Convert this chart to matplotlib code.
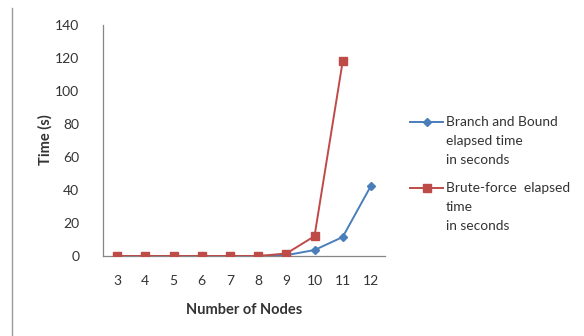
import matplotlib
matplotlib.use('Agg')
import matplotlib.pyplot as plt
from matplotlib.lines import Line2D

# ── DATA ─────────────────────────────────────────────────────────
nodes = [3, 4, 5, 6, 7, 8, 9, 10, 11, 12]
bnb_time = [0, 0, 0, 0, 0, 0, 0.5, 3.6, 11.5, 42.5]
brute_nodes = [3, 4, 5, 6, 7, 8, 9, 10, 11]
brute_time = [0, 0, 0, 0, 0, 0, 1.5, 12, 118]

series_labels = ['Branch and Bound\nelapsed time\nin seconds',
                 'Brute-force  elapsed\ntime\nin seconds']

BLUE = '#4a7ebb'
RED = '#be4b48'
TXT = '#333333'
FONT = 'Lato'

W, H = 584, 336
fig = plt.figure(figsize=(W / 100, H / 100), dpi=100)
fig.patch.set_facecolor('white')
ax = fig.add_axes([103 / W, 1 - 256 / H, 282 / W, 231 / H])

ax.plot(nodes, bnb_time, color=BLUE, lw=1.4, marker='D', ms=3.8,
        mfc=BLUE, mec=BLUE, zorder=3)
ax.plot(brute_nodes, brute_time, color=RED, lw=1.4, marker='s', ms=6,
        mfc=RED, mec=RED, zorder=4)

ax.set_xlim(2.5, 12.5)
ax.set_ylim(0, 140)
ax.set_xticks(nodes)
ax.set_yticks(range(0, 141, 20))
ax.tick_params(axis='x', length=0, pad=14, labelsize=10, labelcolor=TXT)
ax.tick_params(axis='y', length=0, pad=17, labelsize=10, labelcolor=TXT)
for lab in ax.get_xticklabels() + ax.get_yticklabels():
    lab.set_fontfamily(FONT)

for side in ('top', 'right'):
    ax.spines[side].set_visible(False)
for side in ('left', 'bottom'):
    ax.spines[side].set_color('#868686')
    ax.spines[side].set_linewidth(0.9)

fig.text(244 / W, 1 - 310 / H, 'Number of Nodes', fontsize=10.5,
         fontweight='bold', family=FONT, color=TXT, ha='center', va='center')
fig.text(45 / W, 1 - 140 / H, 'Time (s)', fontsize=10.5, rotation=90,
         fontweight='bold', family=FONT, color=TXT, ha='center', va='center')

# left border of the chart frame
fig.add_artist(Line2D([12 / W, 12 / W], [0, 1 - 8 / H],
                      transform=fig.transFigure, color='#9a9a9a', lw=1.0))

# legend: handle sits beside the first line of each entry
legend_rows = [(122, BLUE, 'D', 3.8), (188, RED, 's', 6)]
for (y, col, mk, ms), lab in zip(legend_rows, series_labels):
    yf = 1 - y / H
    fig.add_artist(Line2D([410 / W, 443 / W], [yf, yf], transform=fig.transFigure,
                          color=col, lw=1.4))
    fig.add_artist(Line2D([426.5 / W], [yf], transform=fig.transFigure,
                          color=col, marker=mk, ms=ms, mfc=col, mec=col, lw=0))
    for i, line in enumerate(lab.split('\n')):
        fig.text(446 / W, 1 - (y + i * 19) / H, line, fontsize=9.9,
                 family=FONT, color=TXT, ha='left', va='center')

fig.savefig('out.png', dpi=100, facecolor='white')
